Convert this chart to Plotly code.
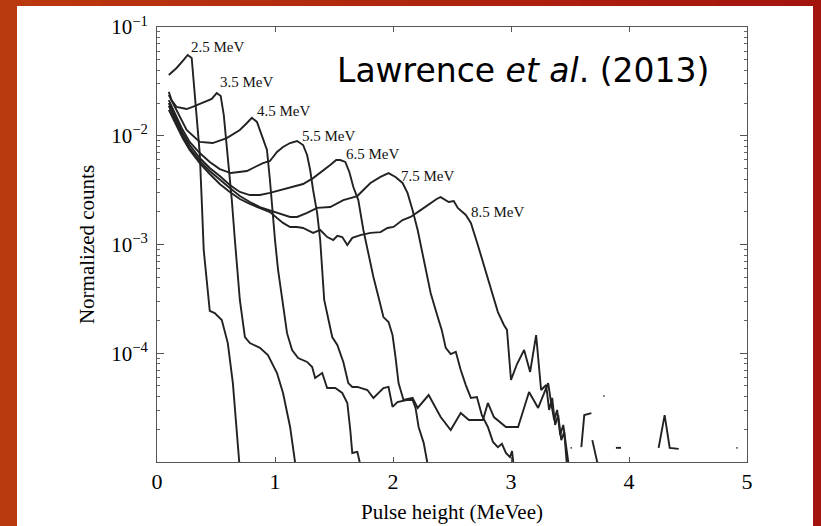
import math
import plotly.graph_objects as go

# ---------------- data ----------------
labels = ["2.5 MeV", "3.5 MeV", "4.5 MeV", "5.5 MeV", "6.5 MeV", "7.5 MeV", "8.5 MeV"]

x_25 = [0.10, 0.166, 0.226, 0.260, 0.294, 0.311, 0.328, 0.345, 0.362, 0.379, 0.396, 0.421, 0.447, 0.489,
        0.549, 0.600, 0.643, 0.702]
y_25 = [3.62e-2, 4.20e-2, 4.98e-2, 5.53e-2, 5.19e-2, 3.26e-2, 1.92e-2, 1.13e-2, 6.93e-3, 2.56e-3, 8.89e-4,
        4.72e-4, 2.45e-4, 2.34e-4, 2.02e-4, 1.24e-4, 5.32e-5, 8.5e-6]

x_35 = [0.10, 0.123, 0.166, 0.251, 0.302, 0.387, 0.464, 0.506, 0.540, 0.566, 0.583, 0.609, 0.634, 0.660,
        0.677, 0.702, 0.745, 0.787, 0.872, 0.940, 1.017, 1.068, 1.128, 1.179]
y_35 = [2.53e-2, 2.13e-2, 1.84e-2, 1.76e-2, 1.84e-2, 2.00e-2, 2.18e-2, 2.47e-2, 2.32e-2, 1.55e-2, 1.02e-2,
        4.84e-3, 2.56e-3, 1.10e-3, 6.47e-4, 3.09e-4, 1.41e-4, 1.24e-4, 1.12e-4, 9.64e-5, 6.58e-5, 4.31e-5,
        2.10e-5, 8.5e-6]

x_45 = [0.10, 0.174, 0.251, 0.362, 0.472, 0.591, 0.702, 0.762, 0.804, 0.847, 0.889, 0.932, 0.957, 0.974,
        1.000, 1.026, 1.060, 1.102, 1.145, 1.196, 1.272, 1.315, 1.340, 1.400, 1.442, 1.511, 1.570, 1.613,
        1.638, 1.655, 1.698, 1.732]
y_45 = [2.37e-2, 1.62e-2, 1.13e-2, 8.77e-3, 8.57e-3, 9.53e-3, 1.13e-2, 1.31e-2, 1.46e-2, 1.34e-2, 1.02e-2,
        7.40e-3, 3.92e-3, 2.31e-3, 1.10e-3, 5.83e-4, 3.09e-4, 1.53e-4, 1.07e-4, 9.04e-5, 8.32e-5, 7.48e-5,
        5.92e-5, 6.58e-5, 4.79e-5, 4.79e-5, 4.31e-5, 3.49e-5, 1.97e-5, 1.21e-5, 1.24e-5, 8.5e-6]

x_55 = [0.10, 0.157, 0.209, 0.277, 0.362, 0.447, 0.532, 0.626, 0.702, 0.762,
        0.830, 0.898, 0.957, 1.017, 1.068, 1.128, 1.187, 1.238, 1.272, 1.298,
        1.323, 1.357, 1.383, 1.400, 1.417, 1.485, 1.528, 1.579, 1.621, 1.655,
        1.698, 1.783, 1.834, 1.919, 1.962, 1.996, 2.038, 2.115, 2.166, 2.191,
        2.217, 2.260, 2.302]
y_55 = [2.13e-2, 1.55e-2, 1.18e-2, 8.77e-3, 6.93e-3, 5.74e-3, 4.94e-3, 4.54e-3, 4.64e-3, 4.74e-3,
        5.16e-3, 5.61e-3, 5.86e-3, 7.09e-3, 7.89e-3, 8.57e-3, 8.95e-3, 8.22e-3, 6.65e-3, 4.84e-3,
        3.17e-3, 1.95e-3, 1.10e-3, 5.83e-4, 3.09e-4, 1.41e-4, 1.19e-4, 8.32e-5, 5.32e-5, 4.90e-5,
        4.90e-5, 4.59e-5, 3.88e-5, 4.79e-5, 4.90e-5, 3.21e-5, 3.56e-5, 3.72e-5, 3.72e-5, 3.14e-5,
        2.10e-5, 1.50e-5, 8.5e-6]

x_65 = [0.10, 0.157, 0.217, 0.277, 0.362, 0.447, 0.532, 0.617, 0.702, 0.787,
        0.872, 0.957, 1.043, 1.128, 1.238, 1.323, 1.383, 1.468, 1.519, 1.553,
        1.596, 1.630, 1.664, 1.706, 1.749, 1.791, 1.834, 1.877, 1.919, 1.962,
        1.996, 2.021, 2.047, 2.089, 2.166, 2.209, 2.302, 2.404, 2.489, 2.574,
        2.643, 2.762, 2.804, 2.855, 2.957, 3.060, 3.153, 3.230, 3.315, 3.340,
        3.366, 3.391, 3.417, 3.443, 3.468, 3.494]
y_65 = [2.00e-2, 1.46e-2, 1.06e-2, 8.22e-3, 6.24e-3, 5.05e-3, 4.27e-3, 3.52e-3, 3.04e-3, 2.85e-3,
        2.85e-3, 2.98e-3, 3.17e-3, 3.38e-3, 3.60e-3, 4.08e-3, 4.54e-3, 5.38e-3, 5.98e-3, 5.98e-3,
        5.74e-3, 4.64e-3, 3.38e-3, 2.56e-3, 1.36e-3, 8.36e-4, 5.02e-4, 3.29e-4, 2.15e-4, 1.94e-4,
        1.47e-4, 9.25e-5, 5.32e-5, 3.72e-5, 3.88e-5, 3.14e-5, 4.13e-5, 2.59e-5, 1.97e-5, 2.82e-5,
        2.43e-5, 2.43e-5, 3.49e-5, 2.59e-5, 2.10e-5, 2.10e-5, 4.41e-5, 3.14e-5, 5.32e-5, 3.49e-5,
        2.43e-5, 3.01e-5, 1.77e-5, 2.19e-5, 1.29e-5, 8.5e-6]

x_75 = [0.10, 0.157, 0.217, 0.277, 0.362, 0.447, 0.532, 0.617, 0.702, 0.787,
        0.872, 0.957, 1.043, 1.128, 1.187, 1.272, 1.357, 1.468, 1.579, 1.698,
        1.749, 1.809, 1.894, 1.962, 2.021, 2.081, 2.123, 2.166, 2.209, 2.251,
        2.294, 2.319, 2.379, 2.413, 2.447, 2.489, 2.532, 2.574, 2.617, 2.660,
        2.711, 2.753, 2.804, 2.847, 2.889, 2.923, 2.957, 2.991, 3.009, 3.026]
y_75 = [1.88e-2, 1.37e-2, 9.95e-3, 7.71e-3, 5.86e-3, 4.74e-3, 3.92e-3, 3.31e-3, 2.79e-3, 2.46e-3,
        2.21e-3, 2.07e-3, 1.91e-3, 1.79e-3, 1.79e-3, 1.95e-3, 2.17e-3, 2.21e-3, 2.56e-3, 2.79e-3,
        3.17e-3, 3.68e-3, 4.18e-3, 4.54e-3, 4.18e-3, 3.68e-3, 2.98e-3, 2.07e-3, 1.36e-3, 8.36e-4,
        5.02e-4, 3.58e-4, 2.15e-4, 1.64e-4, 1.12e-4, 9.84e-5, 1.03e-4, 7.02e-5, 5.10e-5, 3.88e-5,
        3.96e-5, 2.70e-5, 2.10e-5, 1.53e-5, 1.37e-5, 1.47e-5, 1.21e-5, 1.11e-5, 1.26e-5, 8.5e-6]

x_85 = [0.10, 0.157, 0.217, 0.277, 0.362, 0.447, 0.532, 0.617, 0.702, 0.787,
        0.872, 0.957, 1.017, 1.068, 1.128, 1.187, 1.238, 1.323, 1.383, 1.443,
        1.494, 1.528, 1.570, 1.613, 1.655, 1.723, 1.809, 1.894, 1.953, 2.004,
        2.081, 2.149, 2.234, 2.319, 2.370, 2.404, 2.472, 2.515, 2.549, 2.617,
        2.660, 2.719, 2.770, 2.830, 2.889, 2.940, 2.966, 3.000, 3.051, 3.111,
        3.162, 3.213, 3.255, 3.298, 3.323, 3.349, 3.374, 3.400, 3.426, 3.451,
        3.477,
        None, 3.505, 3.515, None, 3.596, 3.621, 3.681, None, 3.689, 3.745, None,
        3.783, 3.792, None, 3.889, 3.932, None, 4.251, 4.302, 4.345, 4.421, None, 4.910, 4.920]
y_85 = [1.73e-2, 1.28e-2, 9.53e-3, 7.40e-3, 5.61e-3, 4.45e-3, 3.60e-3, 3.04e-3, 2.62e-3, 2.36e-3,
        2.17e-3, 1.99e-3, 1.75e-3, 1.58e-3, 1.45e-3, 1.45e-3, 1.42e-3, 1.28e-3, 1.36e-3, 1.17e-3,
        1.10e-3, 1.20e-3, 1.17e-3, 9.89e-4, 1.15e-3, 1.22e-3, 1.28e-3, 1.30e-3, 1.42e-3, 1.45e-3,
        1.68e-3, 1.79e-3, 2.07e-3, 2.41e-3, 2.62e-3, 2.73e-3, 2.46e-3, 2.51e-3, 2.17e-3, 1.87e-3,
        1.58e-3, 9.89e-4, 6.47e-4, 3.98e-4, 2.39e-4, 1.82e-4, 1.64e-4, 5.68e-5, 7.96e-5, 1.07e-4,
        6.73e-5, 1.47e-4, 4.59e-5, 5.10e-5, 3.01e-5, 3.88e-5, 2.19e-5, 2.70e-5, 1.59e-5, 1.89e-5,
        8.5e-6,
        None, 1.35e-5, 1.35e-5, None, 1.37e-5, 2.70e-5, 2.82e-5, None, 1.59e-5, 8.5e-6, None,
        4.05e-5, 4.05e-5, None, 1.35e-5, 1.35e-5, None, 1.35e-5, 2.70e-5, 1.35e-5, 1.32e-5, None, 1.35e-5, 1.35e-5]

series_x = [x_25, x_35, x_45, x_55, x_65, x_75, x_85]
series_y = [y_25, y_35, y_45, y_55, y_65, y_75, y_85]

# label anchors (data coordinates, left edge / vertical middle)
label_x = [0.268, 0.515, 0.830, 1.213, 1.587, 2.055, 2.643]
label_y = [6.48e-2, 3.09e-2, 1.69e-2, 9.95e-3, 6.79e-3, 4.27e-3, 1.97e-3]

x_ticks = [0, 1, 2, 3, 4, 5]
y_ticks = [1e-1, 1e-2, 1e-3, 1e-4]
y_tick_text = ["10<sup>\u22121</sup>", "10<sup>\u22122</sup>", "10<sup>\u22123</sup>", "10<sup>\u22124</sup>"]

# ---------------- figure ----------------
W, H = 821, 526
ML, MR, MT, MB = 157, 74, 27, 64
PW, PH = W - ML - MR, H - MT - MB

def px2fx(px):
    return (px - ML) / PW

def py2fy(py):
    return (H - MB - py) / PH

fig = go.Figure()
line_col = "#222222"
for xs, ys, name in zip(series_x, series_y, labels):
    fig.add_trace(go.Scatter(x=xs, y=ys, mode="lines", name=name, connectgaps=False,
                             line=dict(color=line_col, width=1.9), hoverinfo="skip"))

serif = "Liberation Serif, Times New Roman, serif"
for lx, ly, t in zip(label_x, label_y, labels):
    fig.add_annotation(x=lx, y=math.log10(ly), xref="x", yref="y", text=t, showarrow=False,
                       xanchor="left", yanchor="middle", font=dict(family=serif, size=15, color="#111"))

fig.add_annotation(x=px2fx(335), y=py2fy(70), xref="paper", yref="paper",
                   text="Lawrence <i>et al</i>. (2013)", showarrow=False,
                   xanchor="left", yanchor="middle",
                   font=dict(family="DejaVu Sans, Verdana, sans-serif", size=33, color="#000"))

# background: red frame with a left-to-right tint, white slide panel
shapes = []
n = 24
c0 = (186, 56, 14)
c1 = (163, 20, 14)
for i in range(n):
    t = i / (n - 1)
    col = "rgb(%d,%d,%d)" % tuple(round(a + (b - a) * t) for a, b in zip(c0, c1))
    shapes.append(dict(type="rect", xref="paper", yref="paper", layer="below",
                       x0=px2fx(W * i / n - 1), x1=px2fx(W * (i + 1) / n + 1),
                       y0=py2fy(H + 2), y1=py2fy(-2), line=dict(width=0), fillcolor=col))
shapes.append(dict(type="rect", xref="paper", yref="paper", layer="below",
                   x0=px2fx(17), x1=px2fx(813), y0=py2fy(H + 2), y1=py2fy(6),
                   line=dict(width=0), fillcolor="white"))

minor_vals = [k * 10.0 ** e for e in range(-5, -1) for k in range(2, 10)]

axis_common = dict(showline=True, linecolor="#555", linewidth=1, mirror="ticks",
                   ticks="inside", tickcolor="#555", showgrid=False, zeroline=False,
                   automargin=False)

fig.update_layout(
    width=W, height=H, margin=dict(l=ML, r=MR, t=MT, b=MB),
    paper_bgcolor="rgb(172,36,14)", plot_bgcolor="white",
    showlegend=False, template="none", shapes=shapes,
    xaxis=dict(range=[0, 5], tickvals=x_ticks, ticktext=[str(v) for v in x_ticks], ticklen=5,
               tickfont=dict(family=serif, size=22, color="#000"),
               title=dict(text="Pulse height (MeVee)", standoff=10,
                          font=dict(family=serif, size=21, color="#000")),
               **axis_common),
    yaxis=dict(type="log", range=[-5, -1], tickvals=y_ticks, ticktext=y_tick_text, ticklen=7,
               ticklabelstandoff=4,
               tickfont=dict(family=serif, size=21, color="#000"),
               minor=dict(tickvals=minor_vals, ticks="inside", ticklen=3, tickcolor="#666", showgrid=False),
               title=dict(text="Normalized counts", standoff=10,
                          font=dict(family=serif, size=21, color="#000")),
               **axis_common),
)

fig.write_html("out.html", config={"displayModeBar": False},
               post_script="document.body.style.margin='0px';document.body.style.overflow='hidden';")
